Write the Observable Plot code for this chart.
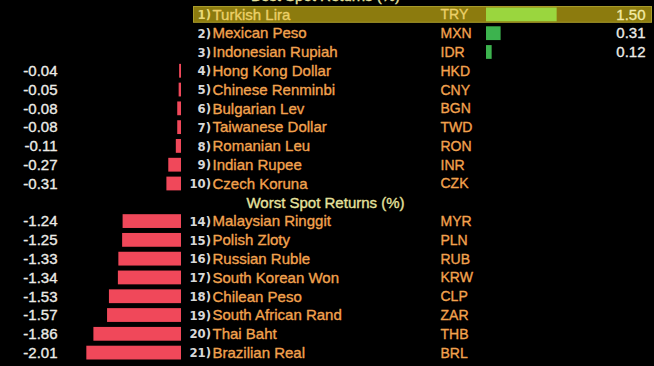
<!DOCTYPE html>
<html>
<head>
<meta charset="utf-8">
<script src="https://cdn.jsdelivr.net/npm/d3@7"></script>
<script src="https://cdn.jsdelivr.net/npm/@observablehq/plot@0.6"></script>
<style>
  html, body { margin: 0; padding: 0; background: #000; }
  #chart svg { display: block; }
</style>
</head>
<body>
<div id="chart"></div>
<script>
// ---- data ----
const bestTitle = "Best Spot Returns (%)";
const worstTitle = "Worst Spot Returns (%)";

const bestRanks = [1, 2, 3, 4, 5, 6, 7, 8, 9, 10];
const bestNames = ["Turkish Lira", "Mexican Peso", "Indonesian Rupiah", "Hong Kong Dollar", "Chinese Renminbi",
  "Bulgarian Lev", "Taiwanese Dollar", "Romanian Leu", "Indian Rupee", "Czech Koruna"];
const bestCodes = ["TRY", "MXN", "IDR", "HKD", "CNY", "BGN", "TWD", "RON", "INR", "CZK"];
const bestValues = [1.50, 0.31, 0.12, -0.04, -0.05, -0.08, -0.08, -0.11, -0.27, -0.31];

const worstRanks = [14, 15, 16, 17, 18, 19, 20, 21];
const worstNames = ["Malaysian Ringgit", "Polish Zloty", "Russian Ruble", "South Korean Won",
  "Chilean Peso", "South African Rand", "Thai Baht", "Brazilian Real"];
const worstCodes = ["MYR", "PLN", "RUB", "KRW", "CLP", "ZAR", "THB", "BRL"];
const worstValues = [-1.24, -1.25, -1.33, -1.34, -1.53, -1.57, -1.86, -2.01];

// ---- table built from arrays ----
const rows = [
  ...bestRanks.map((r, i) => ({key: "r" + r, rank: r, name: bestNames[i], code: bestCodes[i], value: bestValues[i]})),
  ...worstRanks.map((r, i) => ({key: "r" + r, rank: r, name: worstNames[i], code: worstCodes[i], value: worstValues[i]}))
];
const yDomain = [...bestRanks.map(r => "r" + r), "hdr", ...worstRanks.map(r => "r" + r)];
const posRows = rows.filter(d => d.value > 0);
const negRows = rows.filter(d => d.value < 0);
const firstRow = rows.filter(d => d.rank === 1);
const otherRows = rows.filter(d => d.rank !== 1);

const font = "'Liberation Sans', Arial, sans-serif";
const orange = "#f2a24e";
const white = "#ecebe6";
const RIGHT = 305; // offset of the right-hand bar panel
const thick = {strokeWidth: 0.35};

const chart = Plot.plot({
  width: 654,
  height: 366,
  marginTop: 5,
  marginBottom: 4,
  marginLeft: 0,
  marginRight: 0,
  style: {background: "#000", fontFamily: font},
  x: {type: "linear", domain: [0, 1], range: [181, 228.1], axis: null},
  y: {type: "band", domain: yDomain, padding: 0, round: false, axis: null},
  marks: [
    Plot.cell(firstRow, {y: "key", fill: "#8c7b0e", stroke: "#a89a2a", strokeWidth: 1,
      insetLeft: 193.5, insetRight: 2.5, insetTop: 1.5, insetBottom: 1.5}),
    Plot.barX(negRows, {y: "key", x1: 0, x2: "value", fill: "#f0485a", insetTop: 2.5, insetBottom: 2.5}),
    Plot.barX(posRows, {y: "key", x1: 0, x2: "value", dx: RIGHT,
      fill: d => d.rank === 1 ? "#9ad63e" : "#3cb34e", insetTop: 2.5, insetBottom: 2.5}),
    Plot.text(negRows, {y: "key", text: d => d.value.toFixed(2), frameAnchor: "left", dx: 57,
      textAnchor: "end", fill: white, stroke: white, ...thick, fontSize: 15}),
    Plot.text(posRows, {y: "key", text: d => d.value.toFixed(2), frameAnchor: "left", dx: 645,
      textAnchor: "end", fill: d => d.rank === 1 ? "#f2eaa6" : white,
      stroke: d => d.rank === 1 ? "#f2eaa6" : white, ...thick, fontSize: 15}),
    Plot.text(rows, {y: "key", text: d => d.rank + ")", frameAnchor: "left", dx: 210.5,
      textAnchor: "end", fill: d => d.rank === 1 ? "#e8d878" : "#d8d8d8", fontSize: 13, fontWeight: "bold",
      fontFamily: "'DejaVu Sans Condensed', 'DejaVu Sans', sans-serif", letterSpacing: "-1.5px"}),
    Plot.text(otherRows, {y: "key", text: "name", frameAnchor: "left", dx: 212, textAnchor: "start",
      fill: orange, stroke: orange, ...thick, fontSize: 15}),
    Plot.text(firstRow, {y: "key", text: "name", frameAnchor: "left", dx: 212, textAnchor: "start",
      fill: "#ecd068", stroke: "#ecd068", ...thick, fontSize: 15}),
    Plot.text(rows, {y: "key", text: "code", frameAnchor: "left", dx: 440, textAnchor: "start",
      fill: d => d.rank === 1 ? "#ecd068" : orange, stroke: d => d.rank === 1 ? "#ecd068" : orange,
      ...thick, fontSize: 14}),
    Plot.text([bestTitle], {y: () => "r1", text: d => d, frameAnchor: "left", dx: 325, dy: -18.8,
      textAnchor: "middle", fill: "#e6e29e", stroke: "#e6e29e", ...thick, fontSize: 15}),
    Plot.text([worstTitle], {y: () => "hdr", text: d => d, frameAnchor: "left", dx: 325,
      textAnchor: "middle", fill: "#e6e29e", stroke: "#e6e29e", ...thick, fontSize: 15})
  ]
});
document.getElementById("chart").appendChild(chart);
</script>
</body>
</html>
